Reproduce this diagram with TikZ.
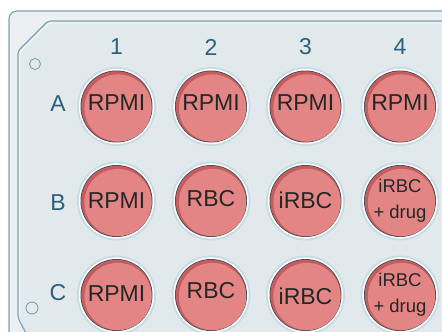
\documentclass[tikz,border=0pt]{standalone}
\usepackage{fontspec}
\setmainfont{Liberation Sans}
\usepackage{tikz}

\definecolor{plateout}{RGB}{235,240,243}
\definecolor{platein}{RGB}{226,233,237}
\definecolor{plateline}{RGB}{125,163,178}
\definecolor{platelight}{RGB}{246,249,250}
\definecolor{labelblue}{RGB}{45,95,125}
\definecolor{halo}{RGB}{200,219,226}
\definecolor{rim}{RGB}{62,80,86}
\definecolor{darkred}{RGB}{198,92,95}
\definecolor{wellred}{RGB}{227,133,133}

\tikzset{
  oznaka/.style={text=labelblue, font=\fontsize{23}{26}\selectfont},
  vsebina/.style={text=black!85, font=\fontsize{23}{26}\selectfont, align=center, inner sep=0pt},
  vsebina2/.style={vsebina, font=\fontsize{18.5}{26}\selectfont}
}

% vdolbinica: ime, x, y, premik besedila, stil, besedilo
\newcommand{\vdolbina}[6]{%
  \fill[halo] (#2,#3) circle (39.5);
  \fill[white] (#2,#3) circle (37.6);
  \fill[rim] (#2,#3) circle (36);
  \fill[darkred] (#2,#3) circle (35.2);
  \fill[wellred] (#2+1.5,#3+1.5) circle (33.6);
  \node[#5] (#1) at (#2,#3+#4) {#6};
}

\begin{document}
\begin{tikzpicture}[x=1pt,y=-1pt]
                \useasboundingbox (0,0) rectangle (442,332);
                \clip (0,0) rectangle (442,332);
                \fill[white] (0,0) rectangle (442,332);

                % plošča
                \draw[plateline, line width=1.1pt, fill=plateout, rounded corners=8pt]
                    (9,360) -- (9,11) -- (470,11) -- (470,360) -- cycle;
                \draw[plateline, line width=1.1pt, fill=platein, rounded corners=3pt]
                    (40,360) -- (18,318) -- (18,51) -- (48,21) -- (470,21) -- (470,360) -- cycle;
                \draw[platelight, line width=0.8pt, rounded corners=3pt]
                    (20,316) -- (20,52) -- (49,23) -- (470,23);
                \node at (35,64) [circle, draw=plateline, line width=0.9pt, minimum size=11pt, inner sep=0pt] (luknja1) {};
                \node at (32,308) [circle, draw=plateline, line width=0.9pt, minimum size=12pt, inner sep=0pt] (luknja2) {};

                % stolpci in vrstice
                \node at (116.5,47) [oznaka] (s1) {1};
                \node at (211,47) [oznaka] (s2) {2};
                \node at (305.5,47) [oznaka] (s3) {3};
                \node at (400,47) [oznaka] (s4) {4};
                \node at (58,104) [oznaka] (vA) {A};
                \node at (58,203) [oznaka] (vB) {B};
                \node at (58,293) [oznaka] (vC) {C};

                % vrstica A
                \vdolbina{A1}{116.5}{106.5}{-4}{vsebina}{RPMI}
                \vdolbina{A2}{211}{106.5}{-4}{vsebina}{RPMI}
                \vdolbina{A3}{305.5}{106.5}{-4}{vsebina}{RPMI}
                \vdolbina{A4}{400}{106.5}{-4}{vsebina}{RPMI}

                % vrstica B
                \vdolbina{B1}{116.5}{201}{0}{vsebina}{RPMI}
                \vdolbina{B2}{211}{201}{-2}{vsebina}{RBC}
                \vdolbina{B3}{305.5}{201}{-1}{vsebina}{iRBC}
                \vdolbina{B4}{400}{201}{0}{vsebina2}{iRBC\\+ drug}

                % vrstica C
                \vdolbina{C1}{116.5}{295}{-1}{vsebina}{RPMI}
                \vdolbina{C2}{211}{295}{-4}{vsebina}{RBC}
                \vdolbina{C3}{305.5}{295}{1}{vsebina}{iRBC}
                \vdolbina{C4}{400}{295}{0}{vsebina2}{iRBC\\+ drug}
            \end{tikzpicture}
\end{document}
